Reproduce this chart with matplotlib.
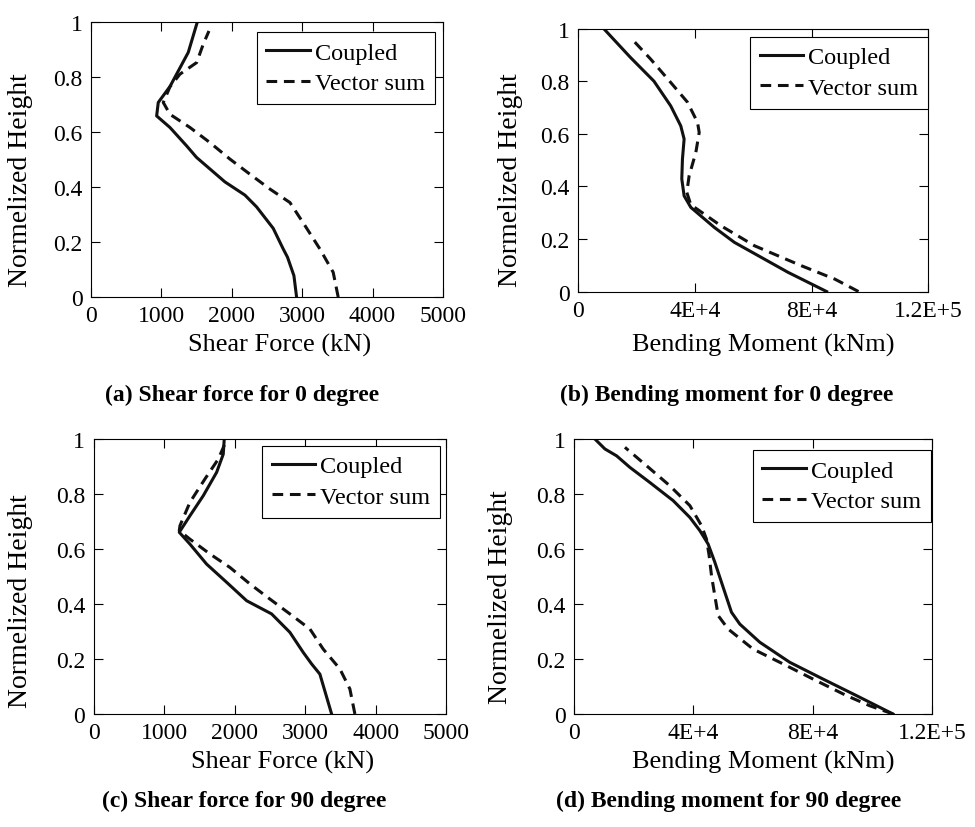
import matplotlib
matplotlib.use("Agg")
import matplotlib.pyplot as plt

plt.rcParams['font.family'] = ['Liberation Serif', 'DejaVu Serif']

# shear force, 0 degree
sf0_cpl_x = [2921, 2883, 2792, 2731, 2589, 2353, 2187, 1903, 1500, 1359, 1122, 933, 956, 1122, 1382, 1510]
sf0_cpl_y = [0, 0.078, 0.145, 0.175, 0.25, 0.328, 0.371, 0.419, 0.508, 0.55, 0.617, 0.659, 0.708, 0.766, 0.89, 1.0]
sf0_vec_x = [3512, 3441, 3252, 3015, 2826, 2542, 2258, 1974, 1690, 1406, 1122, 1027, 1122, 1264, 1501, 1595, 1676]
sf0_vec_y = [0, 0.09, 0.175, 0.27, 0.344, 0.393, 0.447, 0.502, 0.562, 0.617, 0.665, 0.708, 0.765, 0.811, 0.853, 0.92, 0.968]

# bending moment, 0 degree
bm0_cpl_x = [85170, 71950, 62750, 53550, 46660, 38620, 36320, 35520, 35750, 36320, 35170, 31720, 25970, 17930, 8730]
bm0_cpl_y = [0, 0.073, 0.13, 0.187, 0.244, 0.32, 0.364, 0.428, 0.504, 0.58, 0.63, 0.706, 0.80, 0.89, 1.0]
bm0_vec_x = [96100, 88030, 76550, 60450, 48960, 38620, 37240, 38040, 40340, 41490, 40920, 37470, 31720, 24830, 17930]
bm0_vec_y = [0, 0.047, 0.098, 0.174, 0.25, 0.33, 0.377, 0.44, 0.529, 0.605, 0.643, 0.72, 0.795, 0.884, 0.966]

# shear force, 90 degree
sf90_cpl_x = [3373, 3207, 3090, 2971, 2782, 2523, 2169, 1886, 1603, 1366, 1215, 1366, 1555, 1744, 1838, 1852]
sf90_cpl_y = [0, 0.145, 0.182, 0.224, 0.297, 0.364, 0.412, 0.479, 0.545, 0.618, 0.661, 0.721, 0.794, 0.879, 0.945, 1.0]
sf90_vec_x = [3703, 3632, 3490, 3254, 3066, 2782, 2499, 2216, 1933, 1650, 1366, 1215, 1225, 1366, 1579, 1767, 1860]
sf90_vec_y = [0, 0.091, 0.164, 0.236, 0.309, 0.364, 0.418, 0.473, 0.533, 0.582, 0.636, 0.667, 0.685, 0.77, 0.855, 0.927, 0.982]

# bending moment, 90 degree
bm90_cpl_x = [106970, 94700, 83520, 72360, 62310, 55610, 52820, 49470, 47235, 44990, 42210, 38860, 33270, 25460, 18760, 14300, 10385, 7035]
bm90_cpl_y = [0, 0.067, 0.127, 0.188, 0.261, 0.327, 0.37, 0.479, 0.552, 0.618, 0.667, 0.715, 0.776, 0.842, 0.897, 0.939, 0.964, 1.0]
bm90_vec_x = [106970, 99160, 91360, 80170, 69010, 60070, 51700, 48350, 47235, 46120, 45330, 44440, 42770, 38860, 32160, 24350, 17085]
bm90_vec_y = [0, 0.03, 0.067, 0.127, 0.188, 0.236, 0.309, 0.358, 0.43, 0.503, 0.576, 0.636, 0.685, 0.758, 0.83, 0.903, 0.97]

y_ticks = [0, 0.2, 0.4, 0.6, 0.8, 1.0]
y_labels = ['0', '0.2', '0.4', '0.6', '0.8', '1']
sf_ticks = [0, 1000, 2000, 3000, 4000, 5000]
sf_labels = ['0', '1000', '2000', '3000', '4000', '5000']
bm_ticks = [0, 40000, 80000, 120000]
bm_labels = ['0', '4E+4', '8E+4', '1.2E+5']

fig = plt.figure(figsize=(9.75, 8.28), dpi=100)

# axes rectangles in figure fractions
rects = [
    [0.0933, 0.640, 0.361, 0.332],
    [0.593, 0.6467, 0.359, 0.3176],
    [0.0959, 0.1365, 0.362, 0.332],
    [0.5887, 0.1365, 0.367, 0.332],
]
panels = [
    (sf0_cpl_x, sf0_cpl_y, sf0_vec_x, sf0_vec_y, 'sf'),
    (bm0_cpl_x, bm0_cpl_y, bm0_vec_x, bm0_vec_y, 'bm'),
    (sf90_cpl_x, sf90_cpl_y, sf90_vec_x, sf90_vec_y, 'sf'),
    (bm90_cpl_x, bm90_cpl_y, bm90_vec_x, bm90_vec_y, 'bm'),
]
leg_anchor = [(0.977, 0.964), (1.0, 0.969), (0.982, 0.976), (0.997, 0.96)]
ylab_pos = [(-0.165, 0.43), (-0.157, 0.428), (-0.171, 0.415), (-0.170, 0.43)]
xlab_pos = [(0.535, -0.131), (0.53, -0.159), (0.535, -0.131), (0.53, -0.131)]

for i in range(4):
    cx, cy, vx, vy, kind = panels[i]
    ax = fig.add_axes(rects[i])
    ax.plot(cx, cy, color='#111111', lw=2.2, label='Coupled')
    ax.plot(vx, vy, color='#111111', lw=2.2, ls=(0, (3.5, 2.2)), label='Vector sum')
    ax.set_ylim(0, 1)
    ax.set_yticks(y_ticks)
    ax.set_yticklabels(y_labels)
    if kind == 'sf':
        ax.set_xlim(0, 5000)
        ax.set_xticks(sf_ticks)
        ax.set_xticklabels(sf_labels)
        ax.set_xlabel('Shear Force (kN)', fontsize=19)
    else:
        ax.set_xlim(0, 120000)
        ax.set_xticks(bm_ticks)
        ax.set_xticklabels(bm_labels)
        ax.set_xlabel('Bending Moment (kNm)', fontsize=19)
    ax.set_ylabel('Normelized Height', fontsize=20)
    ax.yaxis.set_label_coords(*ylab_pos[i])
    ax.xaxis.set_label_coords(*xlab_pos[i])
    ax.tick_params(direction='in', top=True, right=True, length=6.5, width=0.8,
                   labelsize=17, pad=6)
    for s in ax.spines.values():
        s.set_linewidth(0.8)
    leg = ax.legend(loc='upper right', bbox_to_anchor=leg_anchor[i], borderaxespad=0,
                    fontsize=17.5, handlelength=1.8, handletextpad=0.2,
                    labelspacing=0.35, borderpad=0.4, fancybox=False, framealpha=1)
    leg.get_frame().set_edgecolor('black')
    leg.get_frame().set_linewidth(0.8)

fig.text(0.248, 1 - 395 / 828, '(a) Shear force for 0 degree', ha='center', va='center',
         fontsize=17, fontweight='bold')
fig.text(0.745, 1 - 395 / 828, '(b) Bending moment for 0 degree', ha='center', va='center',
         fontsize=17, fontweight='bold')
fig.text(0.250, 1 - 801 / 828, '(c) Shear force for 90 degree', ha='center', va='center',
         fontsize=17, fontweight='bold')
fig.text(0.747, 1 - 801 / 828, '(d) Bending moment for 90 degree', ha='center', va='center',
         fontsize=17, fontweight='bold')

fig.savefig('out.png', dpi=100)
